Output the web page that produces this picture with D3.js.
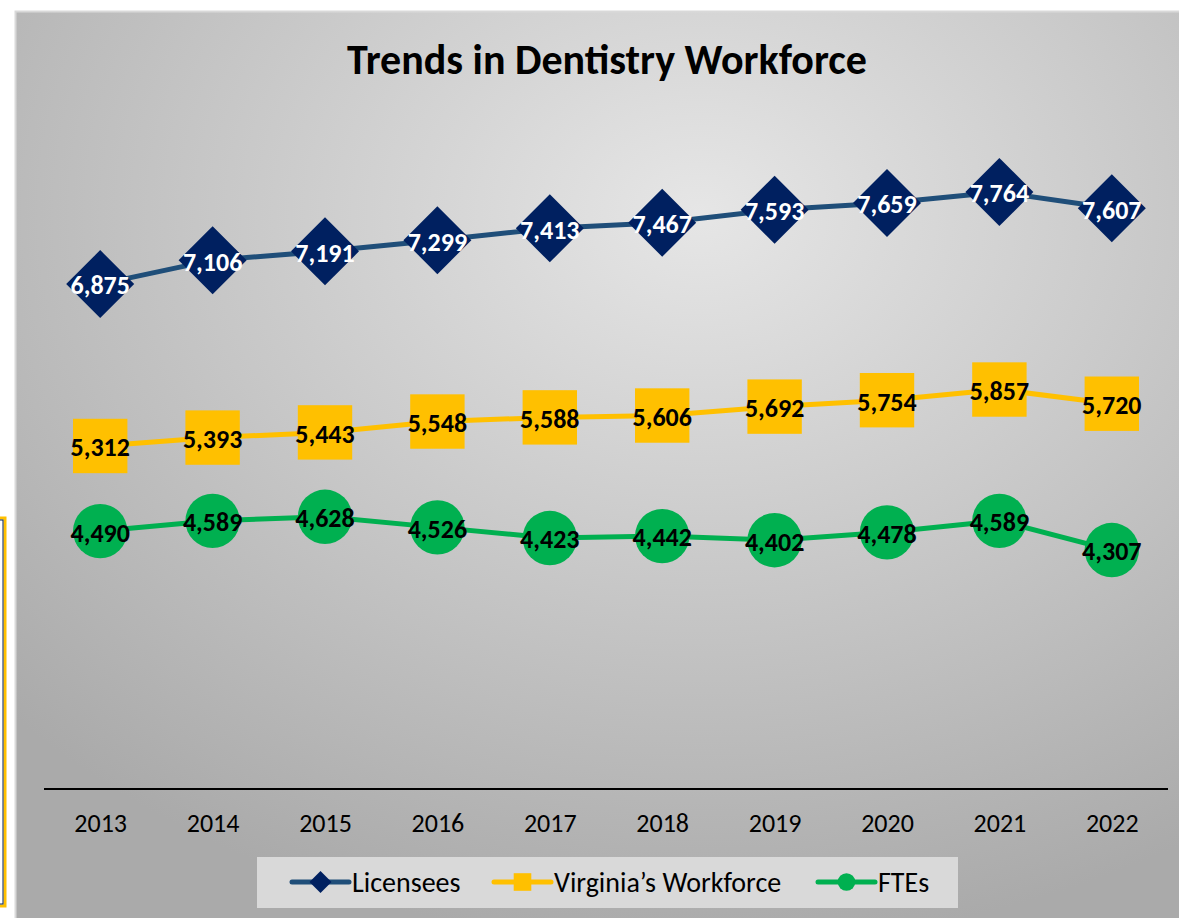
<!DOCTYPE html>
<html>
<head>
<meta charset="utf-8">
<script src="https://cdn.jsdelivr.net/npm/d3@7"></script>
<style>
  body { margin: 0; background: #fff; }
  svg { display: block; font-family: Carlito, Calibri, Lato, sans-serif; }
</style>
</head>
<body>
<div id="chart"></div>
<script>
// Values
const years = ['2013', '2014', '2015', '2016', '2017', '2018', '2019', '2020', '2021', '2022'];
const licensees = [6875, 7106, 7191, 7299, 7413, 7467, 7593, 7659, 7764, 7607];
const workforce = [5312, 5393, 5443, 5548, 5588, 5606, 5692, 5754, 5857, 5720];
const ftes = [4490, 4589, 4628, 4526, 4423, 4442, 4402, 4478, 4589, 4307];
const seriesNames = ['Licensees', 'Virginia\u2019s Workforce', 'FTEs'];

const W = 1179, H = 918;

const svg = d3.select('#chart').append('svg')
    .attr('width', W)
    .attr('height', H);

const defs = svg.append('defs');
const bg = defs.append('radialGradient')
    .attr('id', 'bg-grad')
    .attr('cx', '58%').attr('cy', '22%').attr('r', '80%');
bg.append('stop').attr('offset', '0%').attr('stop-color', '#e6e6e6');
bg.append('stop').attr('offset', '100%').attr('stop-color', '#aaaaaa');

// neighbouring shape cut off at left edge
svg.append('rect')
    .attr('x', -20).attr('y', 518).attr('width', 25).attr('height', 388)
    .attr('fill', 'none').attr('stroke', '#ffc000').attr('stroke-width', 3);
svg.append('rect')
    .attr('x', -20).attr('y', 520).attr('width', 23).attr('height', 384)
    .attr('fill', 'none').attr('stroke', '#002060').attr('stroke-width', 1);

// chart area
svg.append('rect')
    .attr('x', 15.5).attr('y', 11.5)
    .attr('width', W).attr('height', H)
    .attr('fill', 'url(#bg-grad)')
    .attr('stroke', '#d9d9d9').attr('stroke-width', 2);

svg.append('text')
    .attr('x', 607).attr('y', 74)
    .attr('text-anchor', 'middle')
    .style('font-size', '42px')
    .style('font-weight', 'bold')
    .attr('fill', '#000')
    .text('Trends in Dentistry Workforce');

const x = d3.scalePoint()
    .domain(years)
    .range([44, 1168])
    .padding(0.5);

const y = d3.scaleLinear()
    .domain([2000, 9000])
    .range([789, 64]);

// x axis
const xAxis = svg.append('g')
    .attr('transform', 'translate(0,789)')
    .call(d3.axisBottom(x).tickSize(0).tickPadding(25));
xAxis.select('.domain').attr('stroke', '#000').attr('stroke-width', 2)
    .attr('d', 'M44,0H1168');
xAxis.selectAll('text')
    .style('font-size', '26px')
    .style('font-family', 'Carlito, Calibri, Lato, sans-serif')
    .attr('fill', '#000');

const series = [
    { name: seriesNames[0], values: licensees, line: '#1f4e79', marker: '#002060', shape: 'diamond', label: '#fff' },
    { name: seriesNames[1], values: workforce, line: '#ffc000', marker: '#ffc000', shape: 'square', label: '#000' },
    { name: seriesNames[2], values: ftes, line: '#00b050', marker: '#00b050', shape: 'circle', label: '#000' }
];

const line = d3.line()
    .x((d, i) => x(years[i]))
    .y(d => y(d));

function drawMarker(g, shape, color, size) {
    if (shape === 'diamond') {
        g.append('path')
            .attr('d', `M0,${-size}L${size},0L0,${size}L${-size},0Z`)
            .attr('fill', color);
    } else if (shape === 'square') {
        g.append('rect')
            .attr('x', -size * 0.8).attr('y', -size * 0.8)
            .attr('width', size * 1.6).attr('height', size * 1.6)
            .attr('fill', color);
    } else {
        g.append('circle').attr('r', size * 0.8).attr('fill', color);
    }
}

series.forEach(s => {
    svg.append('path')
        .datum(s.values)
        .attr('d', line)
        .attr('fill', 'none')
        .attr('stroke', s.line)
        .attr('stroke-width', 5)
        .attr('stroke-linejoin', 'round');

    const pts = svg.selectAll(null)
        .data(s.values)
        .enter()
        .append('g')
        .attr('transform', (d, i) => `translate(${x(years[i])},${y(d)})`);

    pts.each(function () { drawMarker(d3.select(this), s.shape, s.marker, 34); });

    pts.append('text')
        .attr('text-anchor', 'middle')
        .attr('dy', '0.4em')
        .style('font-size', '26px')
        .style('font-weight', 'bold')
        .attr('fill', s.label)
        .text(d => d3.format(',')(d));
});

// legend
svg.append('rect')
    .attr('x', 257).attr('y', 857)
    .attr('width', 701).attr('height', 51)
    .attr('fill', '#d9d9d9');

const legendX = [292, 494, 818];
series.forEach((s, i) => {
    const g = svg.append('g').attr('transform', `translate(${legendX[i]},882)`);
    g.append('line')
        .attr('x1', 0).attr('x2', 57)
        .attr('stroke', s.line).attr('stroke-width', 5)
        .attr('stroke-linecap', 'round');
    const m = g.append('g').attr('transform', 'translate(28.5,0)');
    drawMarker(m, s.shape, s.marker, 11);
    g.append('text')
        .attr('x', 60).attr('dy', '0.36em')
        .style('font-size', '28px')
        .attr('fill', '#000')
        .text(s.name);
});
</script>
</body>
</html>
